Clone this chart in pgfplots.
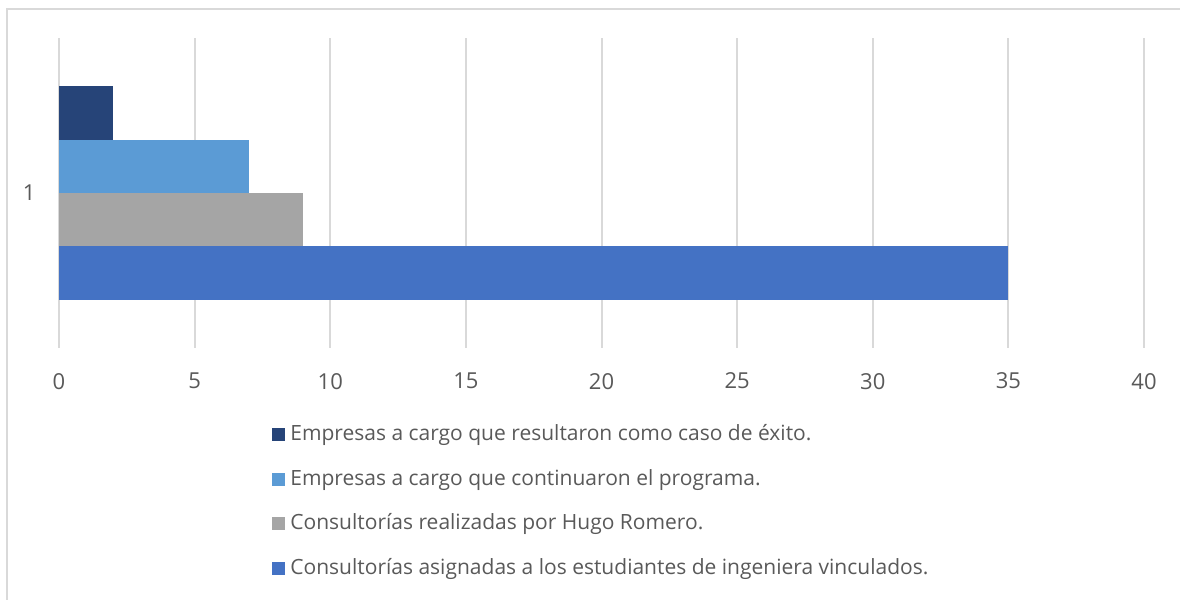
\documentclass[border=0pt]{standalone}
\usepackage{pgfplots}
\pgfplotsset{compat=1.18}
\usepackage{fontspec}
\setmainfont{Open Sans}
\definecolor{c1}{HTML}{264478}
\definecolor{c2}{HTML}{5B9BD5}
\definecolor{c3}{HTML}{A5A5A5}
\definecolor{c4}{HTML}{4472C4}
\definecolor{txt}{HTML}{595959}
\definecolor{gridc}{HTML}{D9D9D9}
\begin{document}
\begin{tikzpicture}
\useasboundingbox (0,0) rectangle (590pt,300pt);
\draw[gridc, line width=1pt] (3.5pt,0) -- (3.5pt,295.5pt) -- (590pt,295.5pt);
\begin{axis}[
  at={(29.5pt,126pt)}, anchor=south west,
  scale only axis, width=542.5pt, height=155pt,
  xmin=0, xmax=40, ymin=0.5, ymax=1.5,
  xtick={0,5,...,40}, ytick={1},
  xbar, bar width=26.75pt,
  axis line style={draw=none},
  tick style={draw=none},
  xmajorgrids, major grid style={gridc, line width=1pt},
  /pgf/number format/assume math mode=true,
  ticklabel style={font=\fontsize{11}{13}\selectfont, text=txt},
  xticklabel style={yshift=-9pt},
  yticklabel style={xshift=-4pt},
  legend style={at={(axis description cs:0.1963,-0.242)}, anchor=north west,
    draw=none, fill=none, inner sep=0pt, column sep=2.5pt, row sep=11.35pt,
    font=\fontsize{10.5}{13}\selectfont, text=txt,
    nodes={inner sep=0pt, text height=8.5pt, text depth=2.5pt, anchor=west}},
  legend cell align=left,
  legend image code/.code={\fill[#1] (0pt,-3.25pt) rectangle (6.5pt,3.25pt);},
]
\addplot[fill=c1, draw=none, bar shift=40pt] coordinates {(2,1)};
\addplot[fill=c2, draw=none, bar shift=13.25pt] coordinates {(7,1)};
\addplot[fill=c3, draw=none, bar shift=-13.25pt] coordinates {(9,1)};
\addplot[fill=c4, draw=none, bar shift=-40pt] coordinates {(35,1)};
\legend{Empresas a cargo que resultaron como caso de éxito.,
Empresas a cargo que continuaron el programa.,
Consultorías realizadas por Hugo Romero.,
Consultorías asignadas a los estudiantes de ingeniera vinculados.}
\end{axis}
\end{tikzpicture}
\end{document}
